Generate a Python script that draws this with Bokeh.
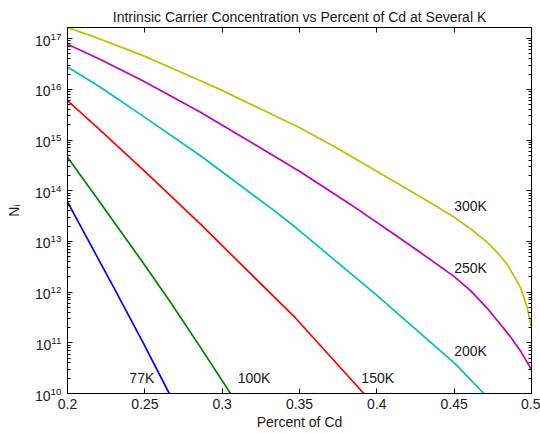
from bokeh.plotting import figure
from bokeh.models import (Range1d, FixedTicker, LinearAxis, LogAxis,
                          LogTickFormatter, CustomJSTickFormatter)
from bokeh.core.properties import value
from bokeh.embed import file_html
from bokeh.resources import INLINE

# ---------------- data ----------------
title_text = "Intrinsic Carrier Concentration vs Percent of Cd at Several K"
x_label_text = "Percent of Cd"
y_label_text = "N\u1d62"

x_77 = [0.2, 0.231, 0.2493, 0.2658]
n_77 = [6.0e13, 1.07e12, 9.5e10, 1.0e10]

x_100 = [0.2, 0.2213, 0.2493, 0.2666, 0.286, 0.3054]
n_100 = [4.57e14, 5.75e13, 3.63e12, 6.31e11, 8.13e10, 1.0e10]

x_150 = [0.2, 0.2213, 0.2493, 0.286, 0.3474, 0.3916]
n_150 = [6.0e15, 1.55e15, 2.51e14, 2.19e13, 3.09e11, 1.0e10]

x_200 = [0.2, 0.2213, 0.2493, 0.286, 0.3334, 0.3474, 0.3991, 0.4509, 0.4692]
n_200 = [2.75e16, 1.1e16, 2.9e15, 4.9e14, 4.1e13, 1.9e13, 9.1e11, 3.8e10, 1.0e10]

x_250 = [0.2, 0.2213, 0.2493, 0.286, 0.3502, 0.383, 0.4121, 0.4282, 0.4498,
         0.4606, 0.4714, 0.4864, 0.4929, 0.4994, 0.5]
n_250 = [7.76e16, 3.89e16, 1.45e16, 3.55e15, 2.40e14, 5.37e13, 1.32e13, 6.03e12,
         2.04e12, 1.07e12, 4.79e11, 1.32e11, 6.92e10, 3.16e10, 2.88e10]

x_300 = [0.2, 0.2213, 0.2493, 0.286, 0.2996, 0.3502, 0.375, 0.3991, 0.4282,
         0.4498, 0.4606, 0.4714, 0.4779, 0.4843, 0.4929, 0.4972, 0.5]
n_300 = [1.66e17, 9.77e16, 4.57e16, 1.48e16, 9.66e15, 1.74e15, 6.76e14, 2.51e14,
         7.59e13, 3.02e13, 1.78e13, 9.55e12, 6.03e12, 3.55e12, 1.23e12, 5.01e11, 2.0e11]

temps = ["77K", "100K", "150K", "200K", "250K", "300K"]
colors = ["#0000FF", "#008000", "#FF0000", "#00BFBF", "#BF00BF", "#BFBF00"]
label_x = [0.24, 0.31, 0.39, 0.45, 0.45, 0.45]
label_n = [2e10, 2e10, 2e10, 7e10, 3e12, 5e13]

x_ticks = [0.2, 0.25, 0.3, 0.35, 0.4, 0.45, 0.5]
x_tick_labels = ["0.2", "0.25", "0.3", "0.35", "0.4", "0.45", "0.5"]
y_ticks = [1e10, 1e11, 1e12, 1e13, 1e14, 1e15, 1e16, 1e17]

series_x = [x_77, x_100, x_150, x_200, x_250, x_300]
series_n = [n_77, n_100, n_150, n_200, n_250, n_300]

# ---------------- figure ----------------
FONT = "Liberation Sans"
TXT = "#1a1a1a"
x_lo, x_hi = x_ticks[0], x_ticks[-1]
y_lo, y_hi = y_ticks[0], max(n_300)

p = figure(width=540, height=433, x_range=Range1d(x_lo, x_hi),
           y_range=Range1d(y_lo, y_hi), y_axis_type="log",
           output_backend="svg", toolbar_location=None,
           min_border_left=67, min_border_right=9,
           min_border_top=27, min_border_bottom=40)
p.xgrid.visible = False
p.ygrid.visible = False
p.outline_line_color = "black"
p.outline_line_width = 1
p.background_fill_color = "white"
p.border_fill_color = "white"

p.title.text = title_text
p.title.align = "center"
p.title.text_font = FONT
p.title.text_font_size = "14px"
p.title.text_font_style = "normal"
p.title.text_color = TXT
p.title.standoff = 6

minor = [k * t for t in y_ticks[:-1] for k in range(2, 10)]
xt = FixedTicker(ticks=x_ticks)
yt = FixedTicker(ticks=y_ticks, minor_ticks=minor)
blank = CustomJSTickFormatter(code="return ''")

xa = p.xaxis[0]
xa.ticker = xt
xa.major_label_overrides = dict(zip(x_ticks, x_tick_labels))
xa.major_tick_in = 5
xa.major_tick_out = 0
xa.minor_tick_line_color = None
xa.major_label_text_font = FONT
xa.major_label_text_font_size = "14px"
xa.major_label_text_color = TXT
xa.major_label_standoff = 5
xa.axis_line_color = "black"
xa.axis_label = x_label_text
xa.axis_label_text_font = FONT
xa.axis_label_text_font_size = "14px"
xa.axis_label_text_font_style = "normal"
xa.axis_label_text_color = TXT
xa.axis_label_standoff = 2

ya = p.yaxis[0]
ya.ticker = yt
ya.formatter = LogTickFormatter()
ya.major_tick_in = 5
ya.major_tick_out = 0
ya.minor_tick_in = 3
ya.minor_tick_out = 0
ya.major_label_text_font = FONT
ya.major_label_text_font_size = "14px"
ya.major_label_text_color = TXT
ya.major_label_standoff = 6
ya.axis_line_color = "black"
ya.axis_label = y_label_text
ya.axis_label_text_font = FONT
ya.axis_label_text_font_size = "14px"
ya.axis_label_text_font_style = "normal"
ya.axis_label_text_color = TXT
ya.axis_label_standoff = 10

top = LinearAxis(ticker=xt, formatter=blank, major_tick_in=5, major_tick_out=0,
                 minor_tick_line_color=None, major_label_text_color=None,
                 major_label_standoff=0, axis_line_color="black")
p.add_layout(top, "above")
right = LogAxis(ticker=yt, formatter=blank, major_tick_in=5, major_tick_out=0,
                minor_tick_in=3, minor_tick_out=0,
                major_label_text_color=None, major_label_standoff=0,
                axis_line_color="black")
p.add_layout(right, "right")

# curves
for xs, ns, c in zip(series_x, series_n, colors):
    p.line(xs, ns, line_color=c, line_width=1.7)

# curve labels
p.text(x=label_x, y=label_n, text=temps, text_font=value(FONT),
       text_font_size=value("14px"), text_color=TXT, text_align="left",
       text_baseline="middle")

open("out.html", "w").write(file_html(p, INLINE))
